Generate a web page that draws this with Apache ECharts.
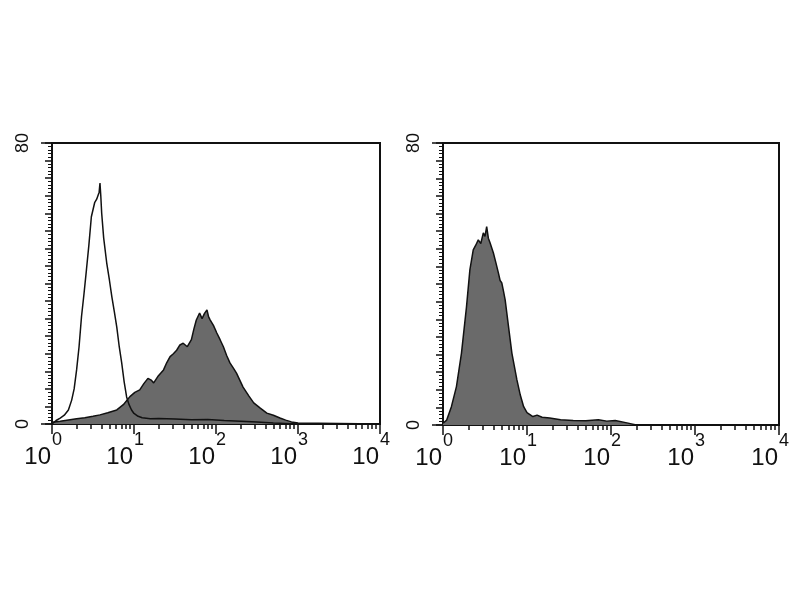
<!DOCTYPE html>
<html>
<head>
  <meta charset="UTF-8" />
  <title>Histograms</title>
  <script src="https://cdn.jsdelivr.net/npm/echarts@6/dist/echarts.min.js"></script>
  <style>
    body { margin: 0; background: #fff; }
    #chart { width: 800px; height: 600px; }
  </style>
</head>
<body>
  <div id="chart"></div>
  <script>
    // x values are in decades (log10 of fluorescence), y values are counts
    const decades = [0, 1, 2, 3, 4];
    const yLabels = [0, 80];

    // left panel, isotype control (open line)
    const ctrlX = [0, 0.05, 0.1, 0.15, 0.2, 0.24, 0.27, 0.30, 0.33, 0.36, 0.39, 0.42, 0.45, 0.48, 0.50, 0.52, 0.545, 0.565, 0.575, 0.585, 0.595, 0.606, 0.63, 0.667, 0.70, 0.73, 0.76, 0.79, 0.82, 0.85, 0.88, 0.91, 0.94, 0.97, 1.0, 1.05, 1.1, 1.2, 1.3, 1.5, 1.7, 1.9, 2.1, 2.3, 2.5, 2.7, 3.0, 4.0];
    const ctrlY = [0, 1, 1.7, 2.5, 4, 6.8, 10, 15.4, 22, 30.6, 37, 43.9, 51, 59, 61, 63, 64, 64.4, 66, 68.6, 65, 60, 53, 45.9, 41, 36.2, 32, 27.6, 22, 17.4, 12, 7.7, 5.5, 4, 3, 2.2, 1.8, 1.5, 1.6, 1.4, 1.2, 1.3, 1, 0.8, 0.6, 0.3, 0, 0];

    // left panel, stained sample (filled)
    const posX = [0, 0.1, 0.18, 0.3, 0.4, 0.5, 0.585, 0.68, 0.79, 0.87, 0.95, 1.01, 1.07, 1.12, 1.17, 1.21, 1.24, 1.29, 1.36, 1.40, 1.44, 1.48, 1.52, 1.56, 1.60, 1.65, 1.70, 1.73, 1.76, 1.80, 1.83, 1.86, 1.89, 1.91, 1.93, 1.97, 2.01, 2.05, 2.09, 2.13, 2.17, 2.21, 2.25, 2.29, 2.33, 2.40, 2.46, 2.54, 2.62, 2.70, 2.78, 2.85, 2.92, 3.0, 4.0];
    const posY = [0.5, 0.8, 1.1, 1.5, 1.8, 2.2, 2.6, 3.2, 4, 5.5, 7.8, 9, 9.7, 11.5, 13, 12.5, 11.7, 13.5, 15.4, 17.5, 19.2, 20, 21, 22.5, 23, 22, 24, 27, 29.6, 31.6, 30, 31.5, 32.5, 30.5, 29.6, 28, 25.9, 24, 22, 19.5, 17.4, 16, 14.5, 12.5, 10.5, 8, 6, 4.5, 3.1, 2.5, 1.7, 1.1, 0.6, 0.3, 0];

    // right panel (filled)
    const rightX = [0, 0.044, 0.1, 0.16, 0.22, 0.28, 0.32, 0.36, 0.39, 0.42, 0.45, 0.48, 0.50, 0.52, 0.54, 0.56, 0.60, 0.63, 0.66, 0.68, 0.70, 0.72, 0.74, 0.78, 0.82, 0.88, 0.92, 0.96, 1.0, 1.07, 1.12, 1.18, 1.27, 1.4, 1.55, 1.7, 1.85, 1.95, 2.05, 2.19, 2.3, 4.0];
    const rightY = [0.5, 1.4, 5.2, 10.9, 20.4, 33.6, 44, 49.7, 51, 52.5, 51.5, 54.5, 53.5, 56.3, 53, 51.7, 48.8, 46, 43.1, 41, 40.3, 38, 35.5, 27.9, 20.4, 12.8, 8.5, 5.2, 3.5, 2.4, 2.8, 2.2, 2, 1.5, 1.3, 1.2, 1.5, 1.1, 1.3, 0.6, 0, 0];

    const ink = '#111';
    const fill = '#6a6a6a';
    const font = '"Liberation Sans", Arial, sans-serif';

    // log minor tick positions 2..9 in each decade
    const minorTicks = [];
    for (let d = 0; d < 4; d++) {
      for (let k = 2; k <= 9; k++) minorTicks.push(d + Math.log10(k));
    }

    const zip = (xs, ys) => xs.map((x, i) => [x, ys[i]]);

    const grids = [
      { left: 52, top: 143, width: 328, height: 281 },
      { left: 443, top: 143, width: 336, height: 282 }
    ];

    const xAxes = [];
    const yAxes = [];
    const xBase = { type: 'value', min: 0, max: 4, position: 'bottom', splitLine: { show: false } };
    grids.forEach((g, i) => {
      // decade ticks + "10" part of the label
      xAxes.push(Object.assign({}, xBase, {
        gridIndex: i,
        axisLine: { show: true, onZero: false, lineStyle: { color: ink, width: 2 } },
        axisTick: { show: true, customValues: decades, length: 10, lineStyle: { color: ink, width: 1.5 } },
        axisLabel: {
          customValues: decades, margin: 21, align: 'right', padding: [0, 1, 0, 0],
          fontFamily: font, fontSize: 24, color: ink,
          formatter: () => '10'
        }
      }));
      // minor log ticks + exponent part of the label
      xAxes.push(Object.assign({}, xBase, {
        gridIndex: i,
        axisLine: { show: false, onZero: false },
        axisTick: { show: true, customValues: minorTicks, length: 5, lineStyle: { color: ink, width: 1.5 } },
        axisLabel: {
          customValues: decades, margin: 7, align: 'left',
          fontFamily: font, fontSize: 18, color: ink,
          formatter: v => String(v)
        }
      }));
      // count axis with dense ticks
      yAxes.push({
        type: 'value', gridIndex: i, min: 0, max: 80, interval: 5, position: 'left',
        axisLine: { show: true, onZero: false, lineStyle: { color: ink, width: 2 } },
        axisTick: { show: true, length: 7, lineStyle: { color: ink, width: 1.5 } },
        minorTick: { show: true, splitNumber: 5, length: 4, lineStyle: { color: ink, width: 1 } },
        axisLabel: { show: false },
        splitLine: { show: false }
      });
      // 0 / 80 labels
      yAxes.push({
        type: 'value', gridIndex: i, min: 0, max: 80, position: 'left',
        axisLine: { show: false, onZero: false },
        axisTick: { show: true, customValues: yLabels, length: 11, lineStyle: { color: ink, width: 1.5 } },
        axisLabel: {
          customValues: yLabels, rotate: 90, margin: 20,
          fontFamily: font, fontSize: 18, color: ink
        },
        splitLine: { show: false }
      });
    });

    const filled = (xi, yi, data) => ({
      type: 'line', xAxisIndex: xi, yAxisIndex: yi, data,
      symbol: 'none', silent: true,
      lineStyle: { color: ink, width: 1.5 },
      areaStyle: { color: fill, opacity: 1 }
    });

    const chart = echarts.init(document.getElementById('chart'), null, { renderer: 'canvas' });
    chart.setOption({
      backgroundColor: '#fff',
      animation: false,
      grid: grids.map(g => Object.assign({
        show: true, borderColor: ink, borderWidth: 2, backgroundColor: 'transparent',
        containLabel: false, outerBoundsMode: 'none'
      }, g)),
      xAxis: xAxes,
      yAxis: yAxes,
      series: [
        filled(0, 0, zip(posX, posY)),
        {
          type: 'line', xAxisIndex: 0, yAxisIndex: 0, data: zip(ctrlX, ctrlY),
          symbol: 'none', silent: true,
          lineStyle: { color: ink, width: 1.5 }
        },
        filled(2, 2, zip(rightX, rightY))
      ]
    });
  </script>
</body>
</html>
